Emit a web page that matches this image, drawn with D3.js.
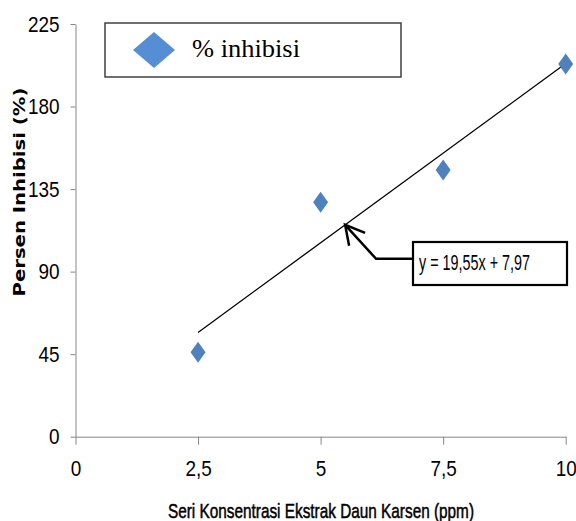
<!DOCTYPE html>
<html>
<head>
<meta charset="utf-8">
<script src="https://cdn.jsdelivr.net/npm/d3@7"></script>
<style>
  html, body { margin: 0; padding: 0; background: #fff; }
  svg { display: block; }
</style>
</head>
<body>
<div id="chart"></div>
<script>
// data
const concentration = [2.5, 5, 7.5, 10];
const inhibition = [46.0, 127.8, 145.4, 203.2];
const xTicks = [0, 2.5, 5, 7.5, 10];
const yTicks = [0, 45, 90, 135, 180, 225];
const slope = 19.55;
const intercept = 7.97;
const seriesName = '% inhibisi';
const equationLabel = 'y = 19,55x + 7,97';
const xTitle = 'Seri Konsentrasi Ekstrak Daun Karsen (ppm)';
const yTitle = 'Persen Inhibisi (%)';

const width = 576, height = 521;
const axisColor = '#868686';
const pointColor = '#4F81BD';
const narrow = '"Liberation Sans Narrow", "Liberation Sans", sans-serif';

const x = d3.scaleLinear().domain([0, 10]).range([75.5, 565.7]);
const y = d3.scaleLinear().domain([0, 225]).range([436.7, 24]);
const fmt = d => String(d).replace('.', ',');

const svg = d3.select('#chart')
  .append('svg')
  .attr('width', width)
  .attr('height', height);

// y axis
const gy = svg.append('g')
  .attr('transform', `translate(${x(0)},0)`)
  .call(d3.axisLeft(y).tickValues(yTicks).tickSizeInner(5).tickSizeOuter(0).tickPadding(11).tickFormat(fmt));

// x axis
const gx = svg.append('g')
  .attr('transform', `translate(0,${y(0)})`)
  .call(d3.axisBottom(x).tickValues(xTicks).tickSizeInner(8).tickSizeOuter(0).tickPadding(16).tickFormat(fmt));

[gx, gy].forEach(g => {
  g.select('.domain').attr('stroke', axisColor);
  g.selectAll('.tick line').attr('stroke', axisColor);
  g.selectAll('.tick text')
    .attr('fill', '#000')
    .style('font-family', narrow)
    .style('font-size', '22px')
    .each(function () {
      // squeeze the glyphs a little, like the condensed original font
      const w = this.getComputedTextLength();
      d3.select(this).attr('textLength', w * 0.86).attr('lengthAdjust', 'spacingAndGlyphs');
    });
});

// axis titles
svg.append('text')
  .attr('x', 168)
  .attr('y', 518)
  .attr('textLength', 306)
  .attr('lengthAdjust', 'spacingAndGlyphs')
  .style('font-family', narrow)
  .style('font-size', '21px')
  .attr('stroke', '#000')
  .attr('stroke-width', 0.5)
  .text(xTitle);

svg.append('text')
  .attr('transform', 'translate(25,192) rotate(-90)')
  .attr('text-anchor', 'middle')
  .attr('textLength', 209)
  .attr('lengthAdjust', 'spacingAndGlyphs')
  .style('font-family', '"DejaVu Sans", Verdana, sans-serif')
  .style('font-weight', 'bold')
  .style('font-size', '15px')
  .text(yTitle);

// diamond path helper
const diamond = (hw, hh) => `M0,${-hh}L${hw},0L0,${hh}L${-hw},0Z`;

// trendline
svg.append('line')
  .attr('x1', x(concentration[0]))
  .attr('y1', y(slope * concentration[0] + intercept))
  .attr('x2', x(concentration[concentration.length - 1]))
  .attr('y2', y(slope * concentration[concentration.length - 1] + intercept))
  .attr('stroke', '#000')
  .attr('stroke-width', 1.3);

// points
svg.selectAll('.dot')
  .data(concentration.map((c, i) => ({ c, v: inhibition[i] })))
  .enter().append('path')
  .attr('class', 'dot')
  .attr('d', diamond(7.5, 10.5))
  .attr('transform', d => `translate(${x(d.c)},${y(d.v)})`)
  .attr('fill', pointColor);

// legend
const legend = svg.append('g');
legend.append('rect')
  .attr('x', 105).attr('y', 23)
  .attr('width', 296).attr('height', 54)
  .attr('fill', '#fff')
  .attr('stroke', '#404040')
  .attr('stroke-width', 1.5);
legend.append('path')
  .attr('d', diamond(21, 18))
  .attr('transform', 'translate(154,50)')
  .attr('fill', '#558ED5');
legend.append('text')
  .attr('x', 192).attr('y', 57)
  .attr('textLength', 108)
  .attr('lengthAdjust', 'spacingAndGlyphs')
  .style('font-family', '"Liberation Serif", "Times New Roman", serif')
  .style('font-size', '26px')
  .text(seriesName);

// equation callout pointing at the trendline
const tipX = 5.5;
const tip = [x(tipX), y(slope * tipX + intercept)];
const elbow = [tip[0] + 31, tip[1] + 34];
const box = { x: 413, y: 242, w: 154, h: 43 };
const ann = svg.append('g')
  .attr('fill', 'none')
  .attr('stroke', '#000')
  .attr('stroke-width', 2.5);
ann.append('path')
  .attr('d', `M${tip[0]},${tip[1]}L${elbow[0]},${elbow[1]}L${box.x},${elbow[1]}`);
ann.append('path')
  .attr('d', `M${tip[0] + 20},${tip[1] + 8}L${tip[0]},${tip[1]}L${tip[0] + 4},${tip[1] + 21}`);
ann.append('rect')
  .attr('x', box.x).attr('y', box.y)
  .attr('width', box.w).attr('height', box.h)
  .attr('fill', '#fff')
  .attr('stroke-width', 2.2);
svg.append('text')
  .attr('x', 419).attr('y', 270)
  .attr('textLength', 111)
  .attr('lengthAdjust', 'spacingAndGlyphs')
  .style('font-family', narrow)
  .style('font-size', '22px')
  .text(equationLabel);
</script>
</body>
</html>
